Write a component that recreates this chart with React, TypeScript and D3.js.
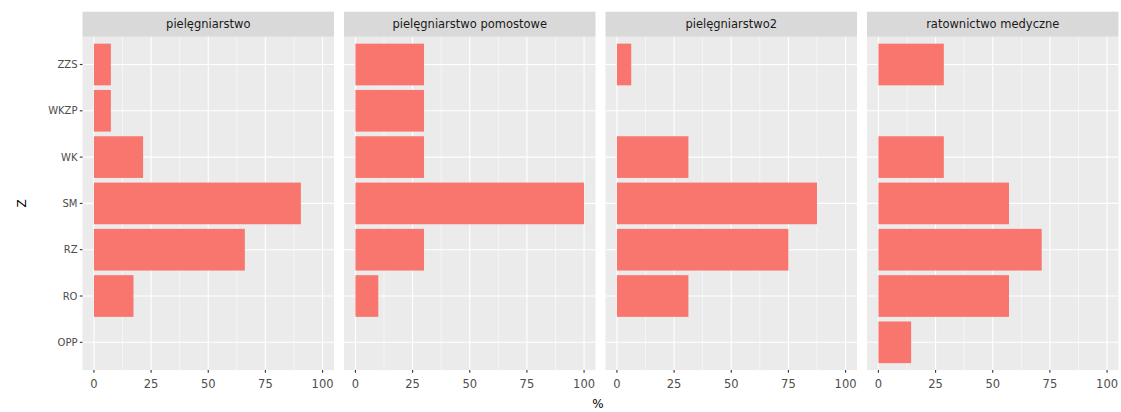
import React from "react";
import * as d3 from "d3";

const categories = ["ZZS", "WKZP", "WK", "SM", "RZ", "RO", "OPP"];
const panels = ["pielęgniarstwo", "pielęgniarstwo pomostowe", "pielęgniarstwo2", "ratownictwo medyczne"];
const valsPiel = [7.4, 7.4, 21.5, 90.5, 66, 17.3, 0];
const valsPom = [30, 30, 30, 100, 30, 10, 0];
const valsPiel2 = [6.25, 0, 31.25, 87.5, 75, 31.25, 0];
const valsRat = [28.6, 0, 28.6, 57.1, 71.4, 57.1, 14.3];
const seriesByPanel = [valsPiel, valsPom, valsPiel2, valsRat];
const xTicks = [0, 25, 50, 75, 100];
const xMinor = [12.5, 37.5, 62.5, 87.5];

const W = 1121;
const H = 412;

export default function App() {
  const panelW = 251.5;
  const gap = 10;
  const left0 = 82.5;
  const stripTop = 11.7;
  const stripH = 25;
  const top = stripTop + stripH;
  const bottom = 370.1;

  const y = d3.scalePoint<string>().domain(categories).range([top, bottom]).padding(0.6);
  const step = y.step();
  const barH = step * 0.9;

  const font = "'DejaVu Sans', 'Liberation Sans', Arial, sans-serif";

  return (
    <svg width={W} height={H} style={{ position: "absolute", left: 0, top: 0, background: "#fff" }}>
      {panels.map((p, i) => {
        const left = left0 + i * (panelW + gap);
        const x = d3.scaleLinear().domain([-5, 105]).range([left, left + panelW]);
        const vals = seriesByPanel[i];
        return (
          <g key={p}>
            <rect x={left} y={top} width={panelW} height={bottom - top} fill="#EBEBEB" />
            {xMinor.map((t) => (
              <line key={"m" + t} x1={x(t)} x2={x(t)} y1={top} y2={bottom} stroke="#fff" strokeWidth={0.55} />
            ))}
            {xTicks.map((t) => (
              <line key={"M" + t} x1={x(t)} x2={x(t)} y1={top} y2={bottom} stroke="#fff" strokeWidth={1.1} />
            ))}
            {categories.map((c) => (
              <line key={"h" + c} x1={left} x2={left + panelW} y1={y(c)} y2={y(c)} stroke="#fff" strokeWidth={1.1} />
            ))}
            {categories.map((c, j) =>
              vals[j] > 0 ? (
                <rect
                  key={"b" + c}
                  x={x(0)}
                  y={(y(c) as number) - barH / 2}
                  width={x(vals[j]) - x(0)}
                  height={barH}
                  fill="#F8766D"
                />
              ) : null
            )}
            <rect x={left} y={stripTop} width={panelW} height={stripH} fill="#D9D9D9" />
            <text
              x={left + panelW / 2}
              y={stripTop + stripH / 2 + 4}
              textAnchor="middle"
              fontFamily={font}
              fontSize={11.5}
              fill="#1A1A1A"
            >
              {p}
            </text>
            {xTicks.map((t) => (
              <g key={"t" + t}>
                <line x1={x(t)} x2={x(t)} y1={bottom} y2={bottom + 2.7} stroke="#333333" strokeWidth={1.1} />
                <text x={x(t)} y={388} textAnchor="middle" fontFamily={font} fontSize={11.5} fill="#4D4D4D">
                  {t}
                </text>
              </g>
            ))}
          </g>
        );
      })}
      {categories.map((c) => (
        <g key={"yl" + c}>
          <line x1={left0 - 2.7} x2={left0} y1={y(c)} y2={y(c)} stroke="#333333" strokeWidth={1.1} />
          <text
            x={left0 - 5}
            y={(y(c) as number) + 3.6}
            textAnchor="end"
            fontFamily={font}
            fontSize={10}
            fill="#4D4D4D"
          >
            {c}
          </text>
        </g>
      ))}
      <text x={598} y={408} textAnchor="middle" fontFamily={font} fontSize={12} fill="#000">
        %
      </text>
      <text
        transform={`translate(26, ${(top + bottom) / 2}) rotate(-90)`}
        textAnchor="middle"
        fontFamily={font}
        fontSize={12}
        fill="#000"
      >
        Z
      </text>
    </svg>
  );
}
